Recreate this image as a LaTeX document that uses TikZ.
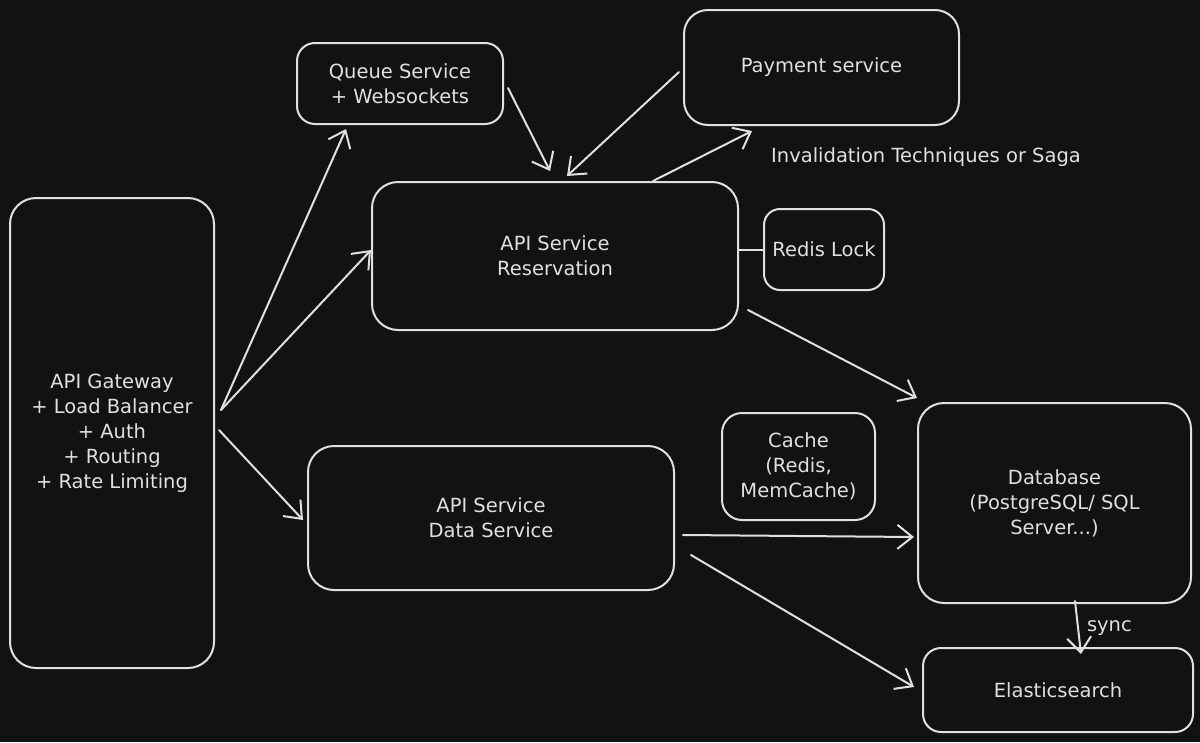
\documentclass[tikz,border=0pt]{standalone}
\usepackage{fontspec}
\setmainfont{DejaVu Sans}
\usetikzlibrary{arrows.meta}
\definecolor{bgc}{HTML}{121212}
\definecolor{inkc}{HTML}{E0E0E0}
\tikzset{
  box/.style={draw=inkc, line width=2pt, rounded corners=22pt, text=inkc, align=center,
    font=\fontsize{19.5}{25}\selectfont, inner sep=0pt},
  arr/.style={draw=inkc, line width=2pt, line cap=round, -{Straight Barb[length=15pt,width=24pt,line width=2pt]}},
  plain/.style={draw=inkc, line width=2pt, line cap=round},
  lbl/.style={text=inkc, font=\fontsize{19.5}{25}\selectfont, inner sep=0pt}
}
\begin{document}
\begin{tikzpicture}[x=1pt,y=-1pt]
\fill[bgc] (0,0) rectangle (1200,742);
\useasboundingbox (0,0) rectangle (1200,742);

\node[box, minimum width=204pt, minimum height=470pt, rounded corners=26pt] (gw) at (112,433)
  {API Gateway\\+ Load Balancer\\+ Auth\\+ Routing\\+ Rate Limiting};
\node[box, minimum width=206pt, minimum height=81pt, rounded corners=18pt] (queue) at (400,83.5)
  {Queue Service\\+ Websockets};
\node[box, minimum width=275pt, minimum height=115pt, rounded corners=24pt] (pay) at (821.5,67.5)
  {Payment service};
\node[box, minimum width=366pt, minimum height=148pt, rounded corners=26pt] (res) at (555,256)
  {API Service\\Reservation};
\node[box, minimum width=120pt, minimum height=81pt, rounded corners=16pt] (redis) at (824,249.5)
  {Redis Lock};
\node[box, minimum width=153pt, minimum height=107pt, rounded corners=20pt] (cache) at (798.5,466.5)
  {Cache\\(Redis,\\MemCache)};
\node[box, minimum width=273pt, minimum height=200pt, rounded corners=26pt] (db) at (1054.5,503)
  {Database\\(PostgreSQL/ SQL\\Server...)};
\node[box, minimum width=366pt, minimum height=144pt, rounded corners=26pt] (data) at (491,518)
  {API Service\\Data Service};
\node[box, minimum width=270pt, minimum height=84pt, rounded corners=18pt] (es) at (1058,690)
  {Elasticsearch};

\node[lbl] (inv) at (926,157) {Invalidation Techniques or Saga};

% connectors
\draw[arr] ([xshift=6pt,yshift=23pt]gw.east) -- ([xshift=-54pt,yshift=-4pt]queue.south);
\draw[arr] ([xshift=6pt,yshift=23pt]gw.east) -- ([yshift=6pt]res.west);
\draw[arr] ([xshift=4pt,yshift=3pt]gw.east) -- ([xshift=-4pt,yshift=-2pt]data.west);
\draw[arr] ([xshift=4pt,yshift=-4.5pt]queue.east) -- ([xshift=-5pt,yshift=10pt]res.north);
\draw[arr] ([xshift=-4pt,yshift=-4.5pt]pay.west) -- ([xshift=12pt,yshift=5pt]res.north);
\draw[arr] ([xshift=98pt]res.north) -- ([xshift=-69.5pt,yshift=-5pt]pay.south);
\draw[plain] (res.east |- redis.west) -- (redis.west);
\draw[arr] ([xshift=9pt,yshift=21pt]res.south east) -- ([yshift=4pt]db.north west);
\draw[arr] ([xshift=8pt,yshift=-17pt]data.east) -- ([xshift=-3pt,yshift=-34pt]db.west);
\draw[arr] ([xshift=16pt,yshift=-37pt]data.east) -- ([xshift=-8pt,yshift=3pt]es.west);
\draw[arr] ([xshift=20.5pt,yshift=3pt]db.south) -- node[lbl, anchor=west, xshift=8pt, yshift=-1pt] (sync) {sync} ([xshift=23pt,yshift=-7pt]es.north);
\end{tikzpicture}
\end{document}
